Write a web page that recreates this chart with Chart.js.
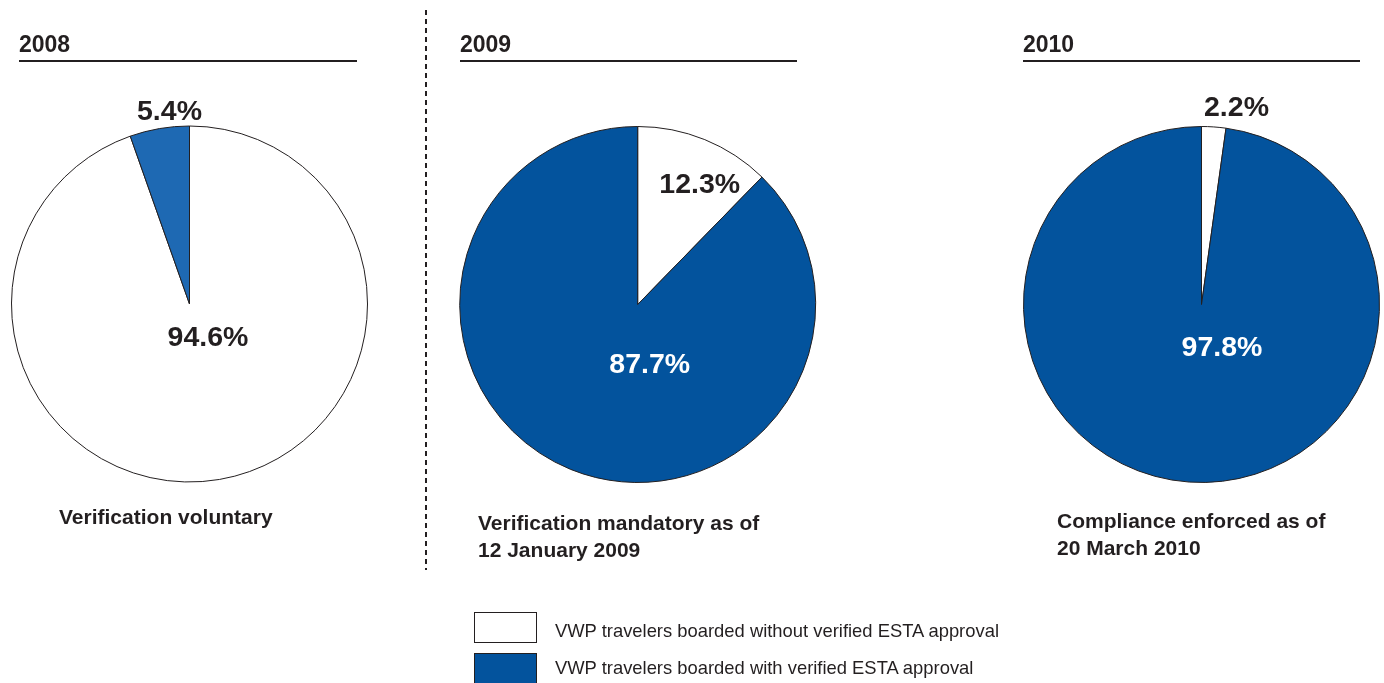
<!DOCTYPE html>
<html>
<head>
<meta charset="utf-8">
<script src="https://cdn.jsdelivr.net/npm/chart.js@4.4.1/dist/chart.umd.min.js"></script>
<style>
  html, body { margin: 0; padding: 0; background: #fff; }
  body { width: 1384px; height: 683px; position: relative; overflow: hidden;
         font-family: "Liberation Sans", Arial, Helvetica, sans-serif; color: #231f20; }
  canvas.pie { position: absolute; left: 0; top: 0; }
  .title { position: absolute; font-weight: bold; font-size: 23px; line-height: 1; }
  .rule { position: absolute; height: 2px; background: #231f20; }
  .caption { position: absolute; font-weight: bold; font-size: 21px; line-height: 27px; white-space: nowrap; }
  .divider { position: absolute; left: 425px; top: 10px; width: 2px; height: 560px;
             background: repeating-linear-gradient(to bottom, #231f20 0 5px, transparent 5px 9px); }
  .legbox { position: absolute; width: 63px; height: 31px; border: 1px solid #231f20; box-sizing: border-box; }
  .legtext { position: absolute; font-size: 18.4px; line-height: 1; white-space: nowrap; }
</style>
</head>
<body>
<script>
// ---- data ----
const years = ["2008", "2009", "2010"];
const categories = [
  "VWP travelers boarded without verified ESTA approval",
  "VWP travelers boarded with verified ESTA approval"
];
const withoutApproval = [94.6, 12.3, 2.2];
const withApproval = [5.4, 87.7, 97.8];
const captions = [
  ["Verification voluntary"],
  ["Verification mandatory as of", "12 January 2009"],
  ["Compliance enforced as of", "20 March 2010"]
];

// ---- layout / style ----
const W = 1384, H = 683;
const centers = [[189.5, 304], [637.7, 304.5], [1201.5, 304.5]];
const side = 357;
const blues = ["#1e69b3", "#03539d", "#03539d"];
const ink = "#231f20";
// label offsets (relative to pie centre): [without, with]
const labelOffsets = [
  [[18.5, 33], [-20, -193]],
  [[62, -120.5], [12, 59.5]],
  [[35, -197.5], [20.5, 42.5]]
];
const labelColors = [
  [ink, ink],
  [ink, "#ffffff"],
  [ink, "#ffffff"]
];
const titleX = [19, 460, 1023];
const ruleW = [338, 337, 337];
const captionPos = [[59, 503], [478, 509], [1057, 507]];

const pctLabels = {
  id: "pctLabels",
  afterDatasetsDraw(chart, args, opts) {
    const ctx = chart.ctx;
    const meta = chart.getDatasetMeta(0);
    const arc = meta.data[0];
    const cx = arc.x, cy = arc.y;
    const ds = chart.data.datasets[0];
    ctx.save();
    ctx.font = "bold 28.5px 'Liberation Sans', Arial, sans-serif";
    ctx.textAlign = "center";
    ctx.textBaseline = "middle";
    ds.data.forEach((v, i) => {
      const off = opts.offsets[i];
      ctx.fillStyle = opts.colors[i];
      ctx.fillText(v.toFixed(1) + "%", cx + off[0], cy + off[1] + 1);
    });
    ctx.restore();
  }
};

years.forEach((yr, k) => {
  const cv = document.createElement("canvas");
  cv.className = "pie";
  cv.width = W; cv.height = H;
  cv.style.width = W + "px"; cv.style.height = H + "px";
  document.body.appendChild(cv);
  const [cx, cy] = centers[k];
  new Chart(cv, {
    type: "pie",
    data: {
      labels: categories,
      datasets: [{
        data: [withoutApproval[k], withApproval[k]],
        backgroundColor: ["#ffffff", blues[k]],
        borderColor: ink,
        borderWidth: 1
      }]
    },
    options: {
      responsive: false,
      animation: false,
      events: [],
      layout: { padding: {
        left: cx - side / 2, right: W - cx - side / 2,
        top: cy - side / 2, bottom: H - cy - side / 2
      } },
      plugins: {
        legend: { display: false },
        tooltip: { enabled: false },
        pctLabels: { offsets: labelOffsets[k], colors: labelColors[k] }
      }
    },
    plugins: [pctLabels]
  });

  const t = document.createElement("div");
  t.className = "title"; t.textContent = yr;
  t.style.left = titleX[k] + "px"; t.style.top = "33px";
  document.body.appendChild(t);
  const r = document.createElement("div");
  r.className = "rule";
  r.style.left = titleX[k] + "px"; r.style.top = "60px"; r.style.width = ruleW[k] + "px";
  document.body.appendChild(r);
  const c = document.createElement("div");
  c.className = "caption";
  c.style.left = captionPos[k][0] + "px"; c.style.top = captionPos[k][1] + "px";
  captions[k].forEach((line, j) => {
    if (j) c.appendChild(document.createElement("br"));
    c.appendChild(document.createTextNode(line));
  });
  document.body.appendChild(c);
});

const dv = document.createElement("div");
dv.className = "divider";
document.body.appendChild(dv);

const legendFills = ["#ffffff", "#03539d"];
const legendTop = [612, 653];
const legendTextTop = [622, 659];
categories.forEach((cat, i) => {
  const b = document.createElement("div");
  b.className = "legbox";
  b.style.left = "474px"; b.style.top = legendTop[i] + "px";
  b.style.background = legendFills[i];
  document.body.appendChild(b);
  const tx = document.createElement("div");
  tx.className = "legtext"; tx.textContent = cat;
  tx.style.left = "555px"; tx.style.top = legendTextTop[i] + "px";
  document.body.appendChild(tx);
});
</script>
</body>
</html>
